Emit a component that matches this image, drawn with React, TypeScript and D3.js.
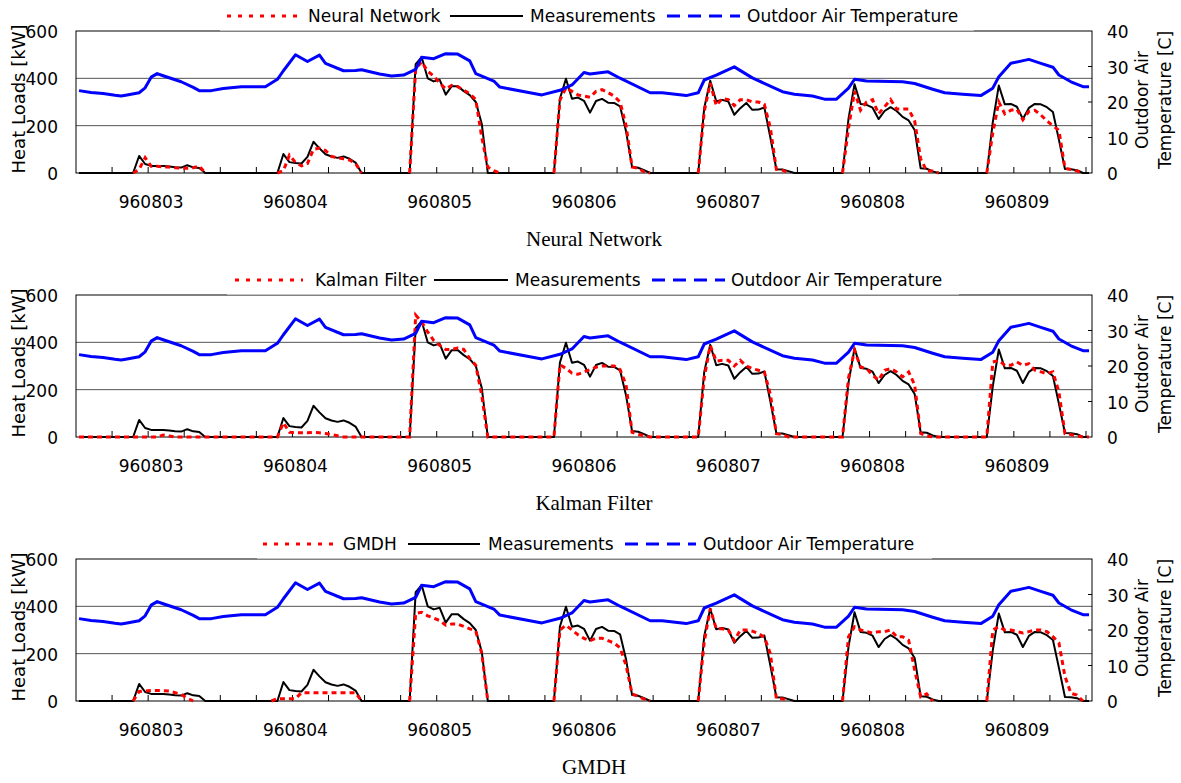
import React from "react";
import * as d3 from "d3";

// ---------- DATA ----------
const days = ["960803", "960804", "960805", "960806", "960807", "960808", "960809"];
const hoursCount = 169;
const leftTicks = [0, 200, 400, 600];
const rightTicks = [0, 10, 20, 30, 40];
const panelTitles = ["Neural Network", "Kalman Filter", "GMDH"];
const modelNames = ["Neural Network", "Kalman Filter", "GMDH"];

type P = [number, number | null];

// Outdoor air temperature [C] (hour index, value)
const temperature: P[] = [
  [0, 23.2], [2, 22.7], [4, 22.4], [6, 21.9], [7, 21.7], [8, 22.0], [10, 22.6], [11, 24.0], [12, 27.0],
  [13, 28.0], [14, 27.4], [17, 25.7], [19, 24.1], [20, 23.2], [22, 23.2], [24, 23.8], [27, 24.3],
  [31, 24.3], [33, 26.4], [34, 28.8], [36, 33.3], [38, 31.4], [40, 33.2], [41, 30.9], [44, 28.8],
  [46, 28.9], [47, 29.1], [50, 27.9], [52, 27.3], [54, 27.6], [56, 29.2], [57, 32.6], [59, 32.2],
  [61, 33.6], [63, 33.5], [65, 31.6], [66, 28.0], [69, 25.9], [70, 24.2], [75, 22.6], [77, 22.0],
  [80, 23.3], [82, 24.8], [84, 28.3], [85, 27.9], [88, 28.5], [90, 26.7], [95, 22.6], [97, 22.6],
  [101, 21.8], [103, 22.6], [104, 26.2], [106, 27.6], [109, 29.9], [112, 26.8], [117, 22.9],
  [119, 22.2], [122, 21.7], [124, 20.8], [126, 20.8], [128, 23.9], [129, 26.4], [131, 25.9],
  [137, 25.7], [139, 25.2], [142, 23.6], [144, 22.6], [147, 22.2], [150, 21.8], [152, 23.9],
  [153, 27.1], [155, 30.9], [158, 32.0], [160, 30.9], [162, 29.8], [163, 27.6], [165, 25.7],
  [167, 24.3], [168, 24.3],
];

// Measured heat loads [kW]
const measurements: P[] = [
  [0, 0], [9, 0], [10, 72], [11, 38], [12, 30], [13, 30], [14, 30], [15, 27], [16, 24], [17, 23], [18, 33], [19, 24], [20, 21], [21, 0],
  [33, 0], [34, 80], [35, 46], [36, 42], [37, 40], [38, 68], [39, 132], [40, 104], [41, 79], [42, 70], [43, 64], [44, 70], [45, 60], [46, 44], [47, 0],
  [55, 0], [56, 460], [57, 489], [58, 400], [59, 387], [60, 394], [61, 331], [62, 367], [63, 367], [64, 346], [65, 329], [66, 300], [67, 207], [68, 0],
  [79, 0], [80, 315], [81, 398], [82, 314], [83, 319], [84, 305], [85, 255], [86, 304], [87, 313], [88, 297], [89, 296], [90, 282], [91, 175], [92, 25], [93, 22], [94, 12], [95, 0],
  [103, 0], [104, 275], [105, 390], [106, 303], [107, 309], [108, 302], [109, 246], [110, 274], [111, 296], [112, 267], [113, 268], [114, 277], [115, 150], [116, 16], [117, 15], [118, 8], [119, 0],
  [127, 0], [128, 230], [129, 375], [130, 292], [131, 288], [132, 276], [133, 228], [134, 262], [135, 278], [136, 262], [137, 237], [138, 222], [139, 182], [140, 20], [141, 18], [142, 7], [143, 0],
  [151, 0], [152, 215], [153, 370], [154, 290], [155, 292], [156, 280], [157, 228], [158, 275], [159, 292], [160, 290], [161, 278], [162, 258], [163, 140], [164, 17], [165, 16], [166, 12], [167, 0], [168, 0],
];

// Neural network predictions [kW]
const neuralNetwork: P[] = [
  [9, 0], [10, 15], [11, 65], [12, 28], [13, 28], [14, 26], [15, 25], [16, 22], [17, 20], [18, 20], [19, 22], [20, 30], [21, 0], [22, null],
  [33, 0], [34, 10], [35, 75], [36, 45], [37, 30], [38, 40], [39, 100], [40, 105], [41, 95], [42, 70], [43, 65], [44, 60], [45, 55], [46, 40], [47, 0], [48, null],
  [55, 0], [56, 440], [57, 470], [58, 430], [59, 410], [60, 380], [61, 355], [62, 370], [63, 365], [64, 350], [65, 335], [66, 310], [67, 150], [68, 25], [69, 10], [70, 0], [71, null],
  [79, 0], [80, 308], [81, 360], [82, 345], [83, 330], [84, 325], [85, 320], [86, 345], [87, 352], [88, 340], [89, 325], [90, 300], [91, 200], [92, 25], [93, 20], [94, 5], [95, 0], [96, null],
  [103, 0], [104, 260], [105, 380], [106, 285], [107, 315], [108, 310], [109, 285], [110, 310], [111, 310], [112, 300], [113, 300], [114, 290], [115, 190], [116, 15], [117, 12], [118, 0], [119, null],
  [127, 0], [128, 190], [129, 345], [130, 265], [131, 300], [132, 310], [133, 250], [134, 280], [135, 310], [136, 270], [137, 270], [138, 270], [139, 220], [140, 60], [141, 8], [142, 8], [143, 0], [144, null],
  [151, 0], [152, 170], [153, 300], [154, 250], [155, 265], [156, 270], [157, 225], [158, 260], [159, 265], [160, 245], [161, 220], [162, 200], [163, 180], [164, 20], [165, 15], [166, 8], [167, 0],
];

// Kalman filter predictions [kW]
const kalmanFilter: P[] = [
  [0, 0], [13, 0], [14, 8], [15, 4], [16, 0], [33, 0], [34, 60], [35, 20], [36, 18], [37, 18], [38, 18], [39, 20], [40, 18], [41, 15], [42, 10], [43, 5], [44, 0],
  [55, 0], [56, 515], [57, 486], [58, 444], [59, 408], [60, 387], [61, 370], [62, 370], [63, 376], [64, 370], [65, 331], [66, 303], [67, 174], [68, 0],
  [79, 0], [80, 305], [81, 290], [82, 270], [83, 265], [84, 275], [85, 285], [86, 295], [87, 300], [88, 300], [89, 300], [90, 285], [91, 220], [92, 20], [93, 12], [94, 5], [95, 0],
  [103, 0], [104, 250], [105, 387], [106, 320], [107, 324], [108, 324], [109, 300], [110, 324], [111, 300], [112, 289], [113, 282], [114, 275], [115, 180], [116, 14], [117, 10], [118, 0],
  [127, 0], [128, 250], [129, 366], [130, 296], [131, 289], [132, 261], [133, 240], [134, 282], [135, 289], [136, 275], [137, 254], [138, 275], [139, 220], [140, 15], [141, 5], [142, 0],
  [151, 0], [152, 317], [153, 324], [154, 303], [155, 303], [156, 317], [157, 303], [158, 310], [159, 282], [160, 275], [161, 268], [162, 275], [163, 190], [164, 14], [165, 10], [166, 5], [167, 0], [168, 0],
];

// GMDH predictions [kW]
const gmdh: P[] = [
  [9, 0], [10, 40], [11, 42], [12, 44], [13, 44], [14, 44], [15, 42], [16, 35], [17, 28], [18, 12], [19, 0], [20, null],
  [32, 0], [33, 10], [34, 10], [35, 10], [36, 10], [37, 35], [38, 35], [39, 35], [40, 35], [41, 35], [42, 35], [43, 35], [44, 35], [45, 35], [46, 35], [47, 0], [48, null],
  [55, 0], [56, 370], [57, 375], [58, 360], [59, 350], [60, 340], [61, 320], [62, 325], [63, 325], [64, 315], [65, 305], [66, 295], [67, 200], [68, 0], [69, null],
  [79, 0], [80, 300], [81, 320], [82, 300], [83, 280], [84, 265], [85, 255], [86, 265], [87, 265], [88, 255], [89, 245], [90, 225], [91, 150], [92, 30], [93, 20], [94, 8], [95, 0], [96, null],
  [103, 0], [104, 250], [105, 390], [106, 305], [107, 305], [108, 300], [109, 255], [110, 300], [111, 300], [112, 295], [113, 285], [114, 270], [115, 200], [116, 10], [117, 10], [118, 0], [119, null],
  [127, 0], [128, 272], [129, 314], [130, 300], [131, 293], [132, 287], [133, 293], [134, 293], [135, 300], [136, 272], [137, 272], [138, 257], [139, 131], [140, 18], [141, 30], [142, 0], [143, null],
  [151, 0], [152, 300], [153, 314], [154, 300], [155, 300], [156, 293], [157, 287], [158, 293], [159, 300], [160, 300], [161, 293], [162, 272], [163, 245], [164, 104], [165, 32], [166, 25], [167, 0],
];

const predictions = [neuralNetwork, kalmanFilter, gmdh];

// ---------- LAYOUT ----------
const W = 1181;
const H = 783;
const L = 76;
const R = 1092;
const panelTops = [31, 295, 559];
const PH = 142;
const FONT = "'DejaVu Sans', sans-serif";

// legend layout per panel: box range and item x positions
const legendLayouts = [
  { box: [220, 974], red: [227, 297], redText: 308, black: [450, 523], blackText: 530, blue: [667, 740], blueText: 747 },
  { box: [227, 959], red: [235, 303], redText: 315, black: [434, 508], blackText: 515, blue: [652, 725], blueText: 731 },
  { box: [257, 932], red: [263, 335], redText: 343, black: [408, 480], blackText: 488, blue: [625, 696], blueText: 703 },
];

const x = d3.scaleLinear().domain([0, hoursCount]).range([L, R]);

function Panel({ idx }: { idx: number }) {
  const top = panelTops[idx];
  const bottom = top + PH;
  const yL = d3.scaleLinear().domain([0, 600]).range([bottom, top]);
  const yR = d3.scaleLinear().domain([0, 40]).range([bottom, top]);
  const lineL = d3
    .line<P>()
    .defined((d) => d[1] !== null)
    .x((d) => x(d[0] + 0.5))
    .y((d) => yL(d[1] as number));
  const lineR = d3
    .line<P>()
    .defined((d) => d[1] !== null)
    .x((d) => x(d[0] + 0.5))
    .y((d) => yR(d[1] as number));
  const lg = legendLayouts[idx];
  const ly = top - 15;
  const hourTicks = d3.range(6, hoursCount, 6);
  const midY = top + 69;

  return (
    <g>
      {/* gridlines */}
      {leftTicks
        .filter((t) => t > 0 && t < 600)
        .map((t) => (
          <line key={"g" + t} x1={L} x2={R} y1={yL(t)} y2={yL(t)} stroke="#555" strokeWidth={1} />
        ))}
      {/* frame */}
      <rect x={L} y={top} width={R - L} height={PH} fill="none" stroke="#000" strokeWidth={1} />
      {/* x ticks */}
      {hourTicks.map((h) => (
        <line key={"t" + h} x1={x(h)} x2={x(h)} y1={bottom} y2={bottom - 6} stroke="#000" strokeWidth={1} />
      ))}
      {/* right ticks */}
      {rightTicks
        .filter((t) => t > 0 && t < 40)
        .map((t) => (
          <line key={"rt" + t} x1={R} x2={R - 4} y1={yR(t)} y2={yR(t)} stroke="#000" strokeWidth={1} />
        ))}
      {/* series */}
      <path d={lineL(measurements) || ""} fill="none" stroke="#000" strokeWidth={2} strokeLinejoin="round" />
      <path d={lineL(predictions[idx]) || ""} fill="none" stroke="#ff0000" strokeWidth={3} strokeDasharray="5,4" />
      <path d={lineR(temperature) || ""} fill="none" stroke="#0000ff" strokeWidth={3} strokeLinejoin="round" />

      {/* left axis labels */}
      {leftTicks.map((t) => (
        <text key={"l" + t} x={58} y={yL(t) + 7} textAnchor="end" fontFamily={FONT} fontSize={17} fill="#000">
          {t}
        </text>
      ))}
      {/* right axis labels */}
      {rightTicks.map((t) => (
        <text key={"r" + t} x={1107} y={yR(t) + 7} textAnchor="start" fontFamily={FONT} fontSize={17} fill="#000">
          {t}
        </text>
      ))}
      {/* day labels */}
      {days.map((d, i) => (
        <text key={d} x={x(i * 24 + 12.5)} y={bottom + 35} textAnchor="middle" fontFamily={FONT} fontSize={17} fill="#000">
          {d}
        </text>
      ))}
      {/* axis titles */}
      <text transform={`translate(25,${midY - 1}) rotate(-90)`} textAnchor="middle" fontFamily={FONT} fontSize={18} fill="#000">
        Heat Loads [kW]
      </text>
      <text transform={`translate(1148,${midY}) rotate(-90)`} textAnchor="middle" fontFamily={FONT} fontSize={17} fill="#000">
        Outdoor Air
      </text>
      <text transform={`translate(1171,${midY}) rotate(-90)`} textAnchor="middle" fontFamily={FONT} fontSize={17} fill="#000">
        Temperature [C]
      </text>
      {/* panel title */}
      <text x={594} y={top + 215} textAnchor="middle" fontFamily="'Liberation Serif', 'Times New Roman', serif" fontSize={21} fill="#000">
        {panelTitles[idx]}
      </text>

      {/* legend */}
      <rect x={lg.box[0]} y={top - 30} width={lg.box[1] - lg.box[0]} height={30} fill="#fff" />
      <line x1={lg.box[0]} x2={lg.box[1]} y1={top} y2={top} stroke="#888" strokeWidth={1.2} />
      <line x1={lg.red[0]} x2={lg.red[1]} y1={ly} y2={ly} stroke="#ff0000" strokeWidth={3} strokeDasharray="4,7" />
      <text x={lg.redText} y={ly + 6} fontFamily={FONT} fontSize={17} fill="#000">
        {modelNames[idx]}
      </text>
      <line x1={lg.black[0]} x2={lg.black[1]} y1={ly} y2={ly} stroke="#000" strokeWidth={2} />
      <text x={lg.blackText} y={ly + 6} fontFamily={FONT} fontSize={17} fill="#000">
        Measurements
      </text>
      <line x1={lg.blue[0]} x2={lg.blue[1]} y1={ly} y2={ly} stroke="#0000ff" strokeWidth={3} strokeDasharray="13,8" />
      <text x={lg.blueText} y={ly + 6} fontFamily={FONT} fontSize={17} fill="#000">
        Outdoor Air Temperature
      </text>
    </g>
  );
}

export default function App() {
  return (
    <svg
      width={W}
      height={H}
      viewBox={`0 0 ${W} ${H}`}
      style={{ position: "absolute", left: 0, top: 0, background: "#fff" }}
    >
      <rect x={0} y={0} width={W} height={H} fill="#fff" />
      {[0, 1, 2].map((i) => (
        <Panel key={i} idx={i} />
      ))}
    </svg>
  );
}
